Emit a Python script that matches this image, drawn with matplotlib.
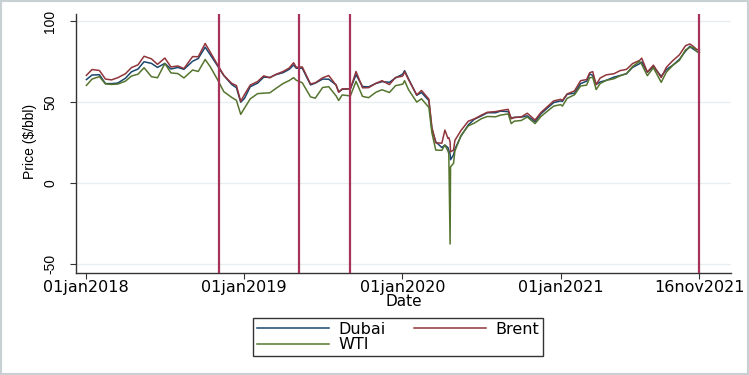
import matplotlib
matplotlib.use("Agg")
import matplotlib.pyplot as plt
import matplotlib.patches as mpatches
import pandas as pd

# price readings (roughly twice a month, extra points around the April 2020 crash)
dates = [
    "2018-01-02", "2018-01-15", "2018-02-01", "2018-02-15", "2018-03-01", "2018-03-15",
    "2018-04-02", "2018-04-16", "2018-05-01", "2018-05-15", "2018-06-01", "2018-06-15",
    "2018-07-02", "2018-07-16", "2018-08-01", "2018-08-15", "2018-09-04", "2018-09-17",
    "2018-10-03", "2018-10-15", "2018-11-01", "2018-11-15", "2018-12-03", "2018-12-14",
    "2018-12-24",
    "2019-01-02", "2019-01-15", "2019-02-01", "2019-02-15", "2019-03-01", "2019-03-15",
    "2019-04-01", "2019-04-15", "2019-04-25", "2019-05-01", "2019-05-15", "2019-06-03",
    "2019-06-14", "2019-07-01", "2019-07-15", "2019-08-01", "2019-08-07", "2019-08-15",
    "2019-09-03", "2019-09-16", "2019-10-01", "2019-10-15", "2019-11-01", "2019-11-15",
    "2019-12-02", "2019-12-16", "2019-12-31",
    "2020-01-02", "2020-01-06", "2020-01-15", "2020-02-03", "2020-02-14", "2020-03-02",
    "2020-03-09", "2020-03-18", "2020-04-01", "2020-04-08", "2020-04-15", "2020-04-17",
    "2020-04-20", "2020-04-21", "2020-04-28", "2020-05-01", "2020-05-15", "2020-06-01",
    "2020-06-15", "2020-07-01", "2020-07-15", "2020-08-03", "2020-08-14", "2020-09-01",
    "2020-09-08", "2020-09-15", "2020-10-01", "2020-10-15", "2020-11-02", "2020-11-16",
    "2020-12-01", "2020-12-15", "2020-12-31",
    "2021-01-04", "2021-01-15", "2021-02-01", "2021-02-15", "2021-03-01", "2021-03-08",
    "2021-03-15", "2021-03-23", "2021-04-01", "2021-04-15", "2021-05-03", "2021-05-17",
    "2021-06-01", "2021-06-15", "2021-07-01", "2021-07-06", "2021-07-19", "2021-08-02",
    "2021-08-20", "2021-09-01", "2021-09-15", "2021-10-01", "2021-10-15", "2021-10-25",
    "2021-11-01", "2021-11-10", "2021-11-16",
]

dubai = [
    64.0, 66.8, 67.0, 61.5, 61.5, 61.8, 64.8, 68.8, 70.5, 75.0, 74.0, 71.5, 74.0, 70.5,
    71.5, 70.3, 75.3, 77.0, 84.0, 79.2, 72.3, 66.5, 61.0, 59.0, 50.0,
    52.5, 59.6, 61.8, 65.5, 65.3, 67.0, 68.3, 70.3, 73.0, 71.0, 71.0, 60.7, 61.8, 64.3,
    64.2, 60.7, 56.3, 58.0, 58.3, 67.0, 59.7, 59.5, 61.6, 62.7, 62.3, 65.0, 67.1,
    67.5, 69.5, 64.5, 54.3, 56.0, 51.0, 33.5, 25.5, 22.0, 23.5, 22.0, 20.0, 18.0, 14.5,
    17.5, 21.0, 29.0, 36.0, 39.5, 41.5, 43.5, 43.5, 44.5, 44.2, 40.0, 40.7, 40.8, 41.6,
    38.0, 43.0, 46.5, 49.8, 50.8,
    50.5, 54.9, 55.6, 61.5, 63.0, 67.5, 66.5, 61.0, 62.5, 63.5, 65.5, 66.5, 67.6, 71.5,
    73.8, 74.8, 68.5, 72.0, 66.0, 70.2, 72.7, 76.5, 81.5, 84.5, 83.0, 81.5, 80.5,
]

brent = [
    66.6, 70.2, 69.6, 64.3, 63.8, 65.1, 67.6, 71.4, 73.1, 78.4, 76.8, 73.4, 77.3, 71.8,
    72.4, 70.8, 78.2, 78.1, 86.3, 80.8, 72.9, 66.6, 61.7, 60.3, 50.5,
    54.9, 60.6, 62.8, 66.3, 65.1, 67.2, 69.0, 71.2, 74.4, 71.6, 71.8, 61.3, 62.0, 65.1,
    66.5, 60.5, 56.2, 58.2, 58.3, 69.0, 58.9, 59.0, 61.7, 63.3, 60.9, 65.3, 66.0,
    66.3, 68.9, 64.0, 54.5, 57.3, 51.9, 34.4, 24.9, 24.7, 32.8, 27.7, 28.1, 25.6, 19.3,
    20.5, 26.4, 32.5, 38.3, 39.7, 42.0, 43.8, 44.2, 44.8, 45.6, 39.8, 40.5, 40.9, 43.2,
    39.0, 43.8, 47.4, 50.8, 51.8,
    51.1, 55.1, 57.0, 63.3, 64.0, 68.2, 68.9, 60.8, 64.9, 66.9, 67.6, 69.5, 70.3, 73.9,
    75.8, 77.2, 68.6, 72.9, 65.2, 71.6, 75.5, 79.3, 84.9, 86.0, 84.7, 82.6, 82.4,
]

wti = [
    60.4, 64.3, 65.8, 61.3, 61.0, 61.2, 63.0, 66.2, 67.3, 71.3, 65.8, 65.1, 73.9, 68.1,
    67.7, 65.0, 69.9, 69.0, 76.4, 71.8, 63.7, 56.5, 53.0, 51.2, 42.5,
    46.5, 52.1, 55.3, 55.6, 55.8, 58.5, 61.6, 63.4, 65.2, 63.6, 62.0, 53.3, 52.5, 59.1,
    59.6, 53.9, 51.1, 54.5, 53.9, 62.9, 53.6, 52.8, 56.2, 57.7, 56.0, 60.2, 61.1,
    61.2, 63.3, 57.8, 50.1, 52.1, 46.8, 31.1, 20.4, 20.3, 23.6, 19.9, 18.3, -37.6, 10.0,
    12.3, 19.8, 29.4, 35.4, 37.1, 39.8, 41.2, 41.0, 42.0, 42.8, 36.8, 38.3, 38.7, 40.9,
    36.8, 41.3, 44.6, 47.6, 48.5,
    47.6, 52.4, 54.6, 60.0, 60.6, 65.1, 65.4, 57.8, 61.5, 63.5, 64.5, 66.3, 67.7, 72.1,
    75.2, 73.4, 66.4, 71.3, 62.3, 68.6, 72.6, 75.9, 82.3, 83.8, 84.1, 81.3, 80.8,
]

event_dates = ["2018-11-05", "2019-05-08", "2019-09-01", "2021-11-16"]
tick_dates = ["2018-01-01", "2019-01-01", "2020-01-01", "2021-01-01", "2021-11-16"]
tick_labels = ["01jan2018", "01jan2019", "01jan2020", "01jan2021", "16nov2021"]
y_ticks = [-50, 0, 50, 100]

df = pd.DataFrame({"Dubai": dubai, "Brent": brent, "WTI": wti}, index=pd.to_datetime(dates))
colors = {"Dubai": "#1a476f", "Brent": "#90353b", "WTI": "#55752f"}

fig = plt.figure(figsize=(7.49, 3.75), dpi=100)
ax = fig.add_axes([76 / 749, 1 - 273 / 375, 655 / 749, 259 / 375])

lines = {}
for name in ["Dubai", "Brent", "WTI"]:
    lines[name], = ax.plot(df.index, df[name], color=colors[name], lw=1.1, label=name)

for d in event_dates:
    ax.axvline(pd.Timestamp(d), color="#a8335a", lw=1.6, zorder=4)

ax.set_xlim(pd.Timestamp("2017-12-09"), pd.Timestamp("2022-01-28"))
ax.set_ylim(-55.5, 104.5)

ax.set_yticks(y_ticks)
ax.set_yticklabels([str(v) for v in y_ticks], rotation=90, va="center",
                   family="Liberation Sans", fontsize=10)
ax.set_xticks(pd.to_datetime(tick_dates))
ax.set_xticklabels(tick_labels, family="DejaVu Sans", fontsize=11.5)
ax.tick_params(axis="y", length=4.5, pad=9, color="#333333")
ax.tick_params(axis="x", length=4, pad=1, color="#333333")

ax.yaxis.grid(True, color="#e6eef0", lw=0.9)
ax.set_axisbelow(True)
for side in ["top", "right"]:
    ax.spines[side].set_visible(False)
for side in ["left", "bottom"]:
    ax.spines[side].set_color("#333333")
    ax.spines[side].set_linewidth(1.0)

ax.set_ylabel("Price (\\$/bbl)", family="Liberation Sans", fontsize=10,
              rotation=90, va="center", ha="center")
ax.yaxis.set_label_coords((30 - 76) / 655, (273 - 141) / 259)
ax.set_xlabel("Date", family="DejaVu Sans", fontsize=11, va="center")
ax.xaxis.set_label_coords(0.5, (273 - 302) / 259)

handles = [lines["Dubai"], lines["WTI"], lines["Brent"]]
leg = fig.legend(handles=handles, labels=[h.get_label() for h in handles],
                 loc="center", bbox_to_anchor=(398 / 749, 1 - 337 / 375), ncol=2,
                 fancybox=False, edgecolor="#333333", framealpha=1,
                 handlelength=4.5, handletextpad=0.6, columnspacing=1.8,
                 labelspacing=0.05, borderpad=0.2, borderaxespad=0,
                 prop={"family": "DejaVu Sans", "size": 11.5})
leg.get_frame().set_linewidth(1.0)

fig.patches.append(mpatches.Rectangle((0, 0), 1, 1, transform=fig.transFigure,
                                      fill=False, edgecolor="#c8d0d4", lw=3))

fig.savefig("out.png", dpi=100)
